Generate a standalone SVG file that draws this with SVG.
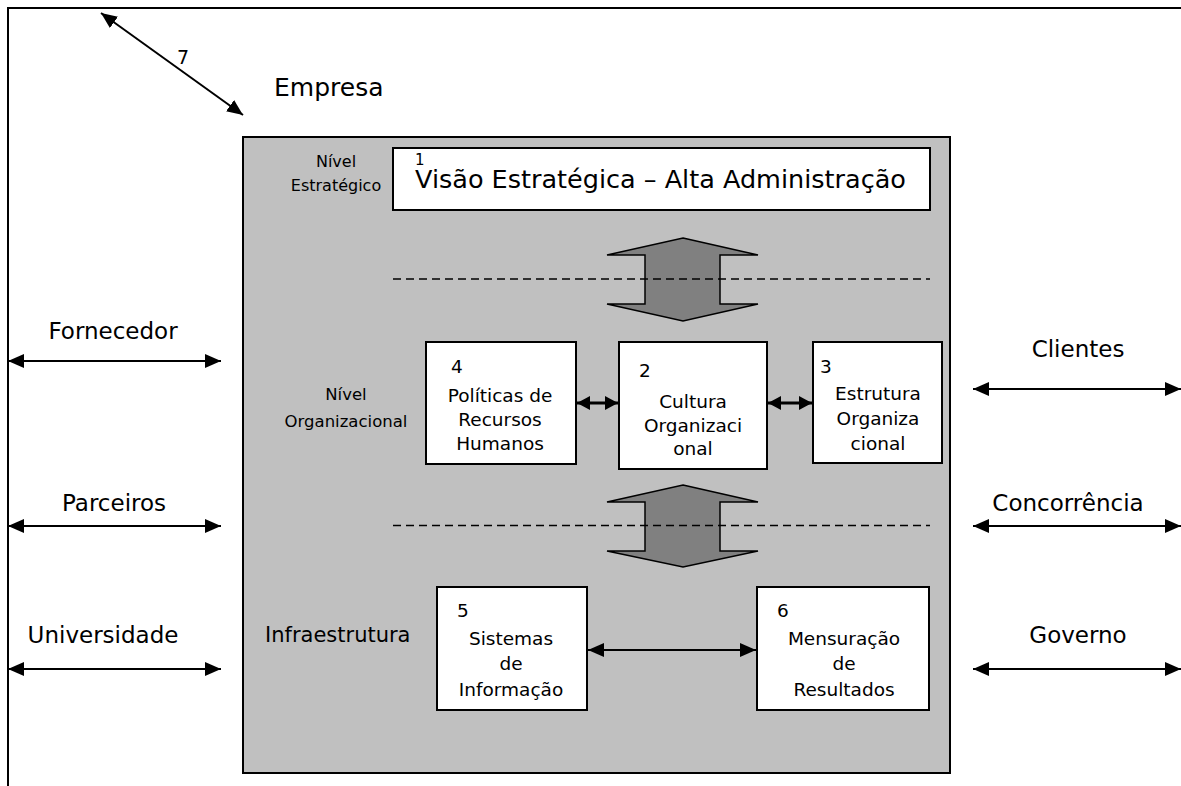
<svg xmlns="http://www.w3.org/2000/svg" width="1181" height="786" viewBox="0 0 1181 786">
  <style>
    text { font-family: "DejaVu Sans", Verdana, sans-serif; fill: #000; }
    .box { fill: #fff; stroke: #000; stroke-width: 2; }
    .frame { fill: none; stroke: #000; stroke-width: 2; }
    .panel { fill: #c0c0c0; stroke: #000; stroke-width: 2; }
    .bigarrow { fill: #808080; stroke: #000; stroke-width: 1.5; stroke-linejoin: miter; }
    .dash { stroke: #000; stroke-width: 1.5; stroke-dasharray: 8 5; fill: none; }
    .link { stroke: #000; stroke-width: 2; fill: none; marker-start: url(#head); marker-end: url(#head); }
    .link-thick { stroke: #000; stroke-width: 3; fill: none; marker-start: url(#head-s); marker-end: url(#head-s); }
    .t18 { font-size: 18.5px; }
    .mid { text-anchor: middle; }
    .side { font-size: 23px; text-anchor: middle; }
  </style>
  <defs>
    <marker id="head" viewBox="0 0 16 14" refX="16" refY="7" markerWidth="16" markerHeight="14" markerUnits="userSpaceOnUse" orient="auto-start-reverse">
      <path d="M0,0 L16,7 L0,14 z" fill="#000"/>
    </marker>
    <marker id="head-s" viewBox="0 0 13 14" refX="13" refY="7" markerWidth="13" markerHeight="14" markerUnits="userSpaceOnUse" orient="auto-start-reverse">
      <path d="M0,0 L13,7 L0,14 z" fill="#000"/>
    </marker>
  </defs>

  <!-- outer company frame (top and left edges only) -->
  <g id="frame">
    <polyline class="frame" points="8,786 8,8 1181,8"/>
    <text x="274" y="96" font-size="25">Empresa</text>
  </g>

  <!-- grey enterprise panel -->
  <g id="panel">
    <rect class="panel" x="243" y="137" width="707" height="636"/>
  </g>

  <!-- level labels -->
  <g id="level-labels">
    <text class="mid" x="336" y="167" font-size="16">Nível</text>
    <text class="mid" x="336" y="191" font-size="16">Estratégico</text>
    <text class="mid" x="346" y="400" font-size="16.5">Nível</text>
    <text class="mid" x="346" y="427" font-size="16.5">Organizacional</text>
    <text x="265" y="642" font-size="21">Infraestrutura</text>
  </g>

  <g id="node-1">
    <rect class="box" x="393" y="148" width="537" height="62"/>
    <text x="415" y="165" font-size="15">1</text>
    <text x="415" y="188" font-size="25.5">Visão Estratégica – Alta Administração</text>
  </g>

  <g id="node-4">
    <rect class="box" x="426" y="342" width="150" height="122"/>
    <text class="t18" x="451" y="373">4</text>
    <text class="t18 mid" x="500" y="402">Políticas de</text>
    <text class="t18 mid" x="500" y="426">Recursos</text>
    <text class="t18 mid" x="500" y="450">Humanos</text>
  </g>

  <g id="node-2">
    <rect class="box" x="619" y="342" width="148" height="127"/>
    <text class="t18" x="639" y="377">2</text>
    <text class="t18 mid" x="693" y="408">Cultura</text>
    <text class="t18 mid" x="693" y="432">Organizaci</text>
    <text class="t18 mid" x="693" y="455">onal</text>
  </g>

  <g id="node-3">
    <rect class="box" x="813" y="342" width="129" height="121"/>
    <text class="t18" x="820" y="373">3</text>
    <text class="t18 mid" x="878" y="400">Estrutura</text>
    <text class="t18 mid" x="878" y="425">Organiza</text>
    <text class="t18 mid" x="878" y="450">cional</text>
  </g>

  <g id="node-5">
    <rect class="box" x="437" y="587" width="150" height="123"/>
    <text class="t18" x="457" y="617">5</text>
    <text class="t18 mid" x="511" y="645">Sistemas</text>
    <text class="t18 mid" x="511" y="670">de</text>
    <text class="t18 mid" x="511" y="696">Informação</text>
  </g>

  <g id="node-6">
    <rect class="box" x="757" y="587" width="172" height="123"/>
    <text class="t18" x="777" y="617">6</text>
    <text class="t18 mid" x="844" y="645">Mensuração</text>
    <text class="t18 mid" x="844" y="670">de</text>
    <text class="t18 mid" x="844" y="696">Resultados</text>
  </g>

  <!-- external stakeholders -->
  <g id="stakeholder-labels">
    <text class="side" x="113" y="339">Fornecedor</text>
    <text class="side" x="114" y="511">Parceiros</text>
    <text class="side" x="103" y="643">Universidade</text>
    <text class="side" x="1078" y="357">Clientes</text>
    <text class="side" x="1068" y="511">Concorrência</text>
    <text class="side" x="1078" y="643">Governo</text>
    <text x="177" y="64" font-size="19">7</text>
  </g>

  <g id="connectors">
    <!-- vertical flows between levels -->
    <polygon class="bigarrow" points="683,238 758,255 720,255 720,304 758,304 683,321 607,304 645,304 645,255 607,255"/>
    <polygon class="bigarrow" points="683,485 758,502 720,502 720,551 758,551 683,567 607,551 645,551 645,502 607,502"/>
    <line class="dash" x1="393" y1="279" x2="930" y2="279"/>
    <line class="dash" x1="393" y1="525.5" x2="930" y2="525.5"/>

    <!-- links between internal blocks -->
    <line class="link-thick" x1="577" y1="403" x2="618" y2="403"/>
    <line class="link-thick" x1="768" y1="403" x2="812" y2="403"/>
    <line class="link" x1="588" y1="650" x2="756" y2="650"/>

    <!-- environment links -->
    <line class="link" x1="101" y1="13" x2="243" y2="115"/>
    <line class="link" x1="8" y1="361" x2="221" y2="361"/>
    <line class="link" x1="8" y1="526" x2="221" y2="526"/>
    <line class="link" x1="8" y1="669" x2="221" y2="669"/>
    <line class="link" x1="973" y1="389" x2="1181" y2="389"/>
    <line class="link" x1="973" y1="526" x2="1181" y2="526"/>
    <line class="link" x1="973" y1="669" x2="1181" y2="669"/>
  </g>
</svg>
